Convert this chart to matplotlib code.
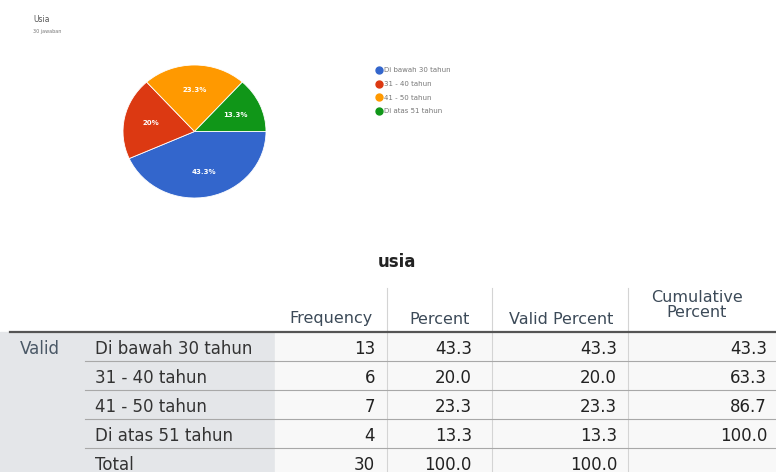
import matplotlib.pyplot as plt
from matplotlib.lines import Line2D

# pie data
categories = ["Di bawah 30 tahun", "31 - 40 tahun", "41 - 50 tahun", "Di atas 51 tahun"]
counts = [13, 6, 7, 4]
pie_labels = ["43.3%", "20%", "23.3%", "13.3%"]
colors = ["#3366cc", "#dc3912", "#ff9900", "#109618"]

# table data
headers = ["Frequency", "Percent", "Valid Percent", "Cumulative\nPercent"]
row_names = categories + ["Total"]
frequency = ["13", "6", "7", "4", "30"]
percent = ["43.3", "20.0", "23.3", "13.3", "100.0"]
valid_percent = ["43.3", "20.0", "23.3", "13.3", "100.0"]
cumulative = ["43.3", "63.3", "86.7", "100.0", ""]

W, H = 776, 472
fig = plt.figure(figsize=(W / 100, H / 100), dpi=100)

# background axes in pixel coords for the table and texts
bg = fig.add_axes([0, 0, 1, 1])
bg.set_xlim(0, W)
bg.set_ylim(H, 0)
bg.axis("off")

#title of the google form chart
bg.text(33, 19, "Usia", fontsize=5.5, color="#555555", va="center")
bg.text(33, 31, "30 jawaban", fontsize=3.5, color="#777777", va="center")

# pie
cx, cy, rx, ry = 194.5, 131.5, 71.5, 66.5
pax = fig.add_axes([(cx - rx) / W, 1 - (cy + ry) / H, 2 * rx / W, 2 * ry / H])
wedges, texts = pax.pie(counts, colors=colors, labels=pie_labels, startangle=0,
                        counterclock=False, labeldistance=0.62,
                        wedgeprops=dict(edgecolor="white", linewidth=0.6),
                        textprops=dict(color="white", fontsize=5, fontweight="bold",
                                       ha="center", va="center"))
pax.set_aspect("auto")
pax.set_xlim(-1, 1)
pax.set_ylim(-1, 1)

handles = [Line2D([], [], marker="o", linestyle="", markersize=5,
                  markerfacecolor=c, markeredgecolor=c) for c in colors]
fig.legend(handles, categories, loc="upper left", bbox_to_anchor=(372 / W, 1 - 64 / H),
           frameon=False, fontsize=5, labelcolor="#777777", handletextpad=0.3,
           labelspacing=1.1, handlelength=1.0, borderpad=0)

# table
fs = 12
row_y = [349, 378, 407, 436, 465]
row_h = 29
top = 332
bg.add_patch(plt.Rectangle((0, top), 275, H - top, color="#e4e6e9", zorder=0))
bg.add_patch(plt.Rectangle((275, top), W - 275, H - top, color="#f8f8f8", zorder=0))

bg.text(397, 262, "usia", fontsize=12, fontweight="bold", color="#222222",
        ha="center", va="center")

col_right = [375, 472, 617, 767]
col_center = [331, 440, 561, 697]
for i, h in enumerate(headers):
    bg.text(col_center[i], 319 if "\n" not in h else 305, h, fontsize=fs - 0.5,
            color="#3c4a58", ha="center", va="center", linespacing=1.0)

for xv in [387, 492, 628]:
    bg.plot([xv, xv], [288, H], color="#d4d4d4", lw=0.8)

bg.plot([10, W], [top, top], color="#555555", lw=1.6)
for k in range(1, 5):
    yy = top + k * row_h
    bg.plot([85, W], [yy, yy], color="#a8a8a8", lw=0.8)

bg.text(20, row_y[0], "Valid", fontsize=fs, color="#4a5866", va="center")
for i, name in enumerate(row_names):
    bg.text(95, row_y[i], name, fontsize=fs, color="#333333", va="center")
    for j, col in enumerate([frequency, percent, valid_percent, cumulative]):
        bg.text(col_right[j], row_y[i], col[i], fontsize=fs, color="#222222",
                ha="right", va="center")

fig.savefig("out.png", dpi=100)
